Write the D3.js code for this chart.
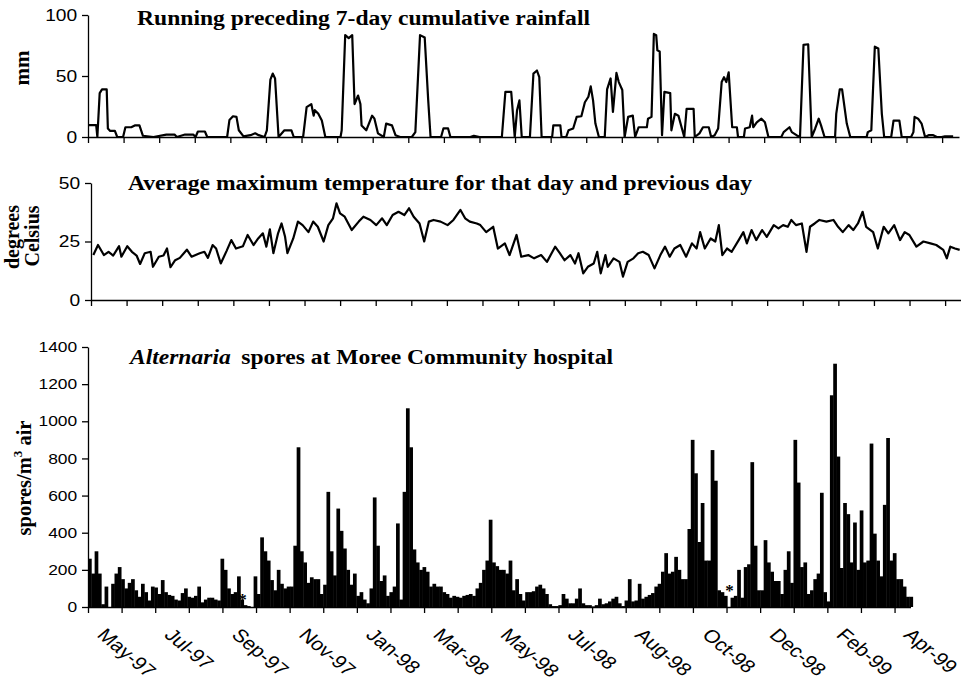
<!DOCTYPE html>
<html>
<head>
<meta charset="utf-8">
<script src="https://cdn.jsdelivr.net/npm/d3@7"></script>
<style>
  body { margin: 0; background: #fff; }
</style>
</head>
<body>
<div id="chart"></div>
<script>
var width = 961,
  height = 692;

// x axis: one tick per month, a label on every second tick
const monthLabels = ["May-97", "Jul-97", "Sep-97", "Nov-97", "Jan-98", "Mar-98", "May-98",
  "Jul-98", "Aug-98", "Oct-98", "Dec-98", "Feb-99", "Apr-99"];
const tickStep = 30.44; // days between monthly ticks
const lastDay = 745;

// Running preceding 7-day cumulative rainfall (mm), read at the turning points
const rainDay = [0, 7, 8, 10, 12, 16, 17, 19, 23, 25,
  30, 32, 37, 40, 44, 47, 56, 67, 74, 76,
  83, 90, 92, 94, 100, 102, 119, 121, 124, 127,
  129, 133, 139, 143, 146, 151, 153, 156, 158, 160,
  163, 168, 174, 176, 184, 187, 191, 193, 194, 197,
  200, 203, 216, 217, 220, 223, 226, 228, 231, 233,
  234, 238, 243, 245, 248, 253, 255, 260, 263, 267,
  277, 280, 284, 288, 291, 293, 302, 304, 308, 310,
  327, 330, 335, 354, 357, 362, 365, 367, 369, 371,
  378, 381, 384, 386, 388, 397, 398, 404, 405, 409,
  411, 415, 418, 422, 425, 428, 430, 432, 434, 437,
  442, 444, 447, 449, 452, 454, 457, 459, 462, 466,
  468, 471, 478, 479, 482, 484, 486, 487, 489, 491,
  493, 498, 499, 502, 505, 508, 510, 512, 518, 519,
  523, 526, 531, 533, 536, 539, 542, 544, 546, 548,
  551, 555, 556, 561, 562, 566, 568, 569, 572, 576,
  579, 582, 593, 595, 600, 602, 606, 609, 612, 616,
  619, 622, 625, 627, 630, 639, 640, 643, 645, 649,
  652, 666, 667, 670, 673, 676, 679, 681, 687, 689,
  694, 696, 704, 706, 707, 710, 713, 716, 719, 723,
  726, 730, 733, 740];
const rainMm = [9.8, 9.8, 0, 36, 39, 39, 7, 5, 5, 0,
  0, 8, 8, 9.5, 9.5, 1, 0, 2, 2, 0,
  2, 2, 0, 4.5, 4.5, 0, 0, 14, 17, 16.5,
  5.5, 0.5, 1.5, 3, 1.5, 0, 5.5, 47, 52, 48,
  0, 5.5, 5.5, 0, 0, 24.5, 27, 17.5, 22, 19,
  13.5, 0, 0, 5.5, 83.5, 81, 83.5, 27, 34, 27,
  9.5, 5.5, 17.5, 15, 3, 0, 11, 9.5, 1.5, 0,
  0, 4, 83.5, 81.5, 30, 0, 0, 7, 7, 0,
  0, 1, 0, 0, 37, 37, 0, 22, 30, 0,
  0, 52, 54.5, 49, 0, 0, 9.5, 9.5, 0, 0,
  5.5, 7, 16.5, 17, 28.5, 33, 41.5, 30, 11, 0,
  0, 39, 48, 20.5, 52.5, 45, 38.5, 0, 16.5, 17.5,
  0, 8, 8, 15, 16.5, 84.5, 83.5, 71, 70, 1.5,
  37, 36, 5.5, 19, 17.5, 7, 0, 23, 23, 0,
  3, 8, 8, 0, 1.5, 7, 45, 49, 45, 53,
  8, 8, 0, 0, 7, 8, 17.5, 8, 12, 15,
  12, 0, 0, 4, 8, 4, 1.5, 0, 75.5, 76,
  0, 7, 15, 9.5, 0, 0, 19, 39, 39, 11,
  0, 0, 4, 5.5, 74, 72.5, 19, 0, 0, 13.5,
  13.5, 0, 0, 4, 16.5, 15, 11, 0, 1.5, 1.5,
  0, 0, 0.5, 0.5];

// Average maximum temperature for that day and previous day (deg C)
const tempDay = [2, 6, 11, 15, 19, 24, 26, 31, 35, 39,
  42, 46, 51, 53, 58, 62, 65, 68, 72, 76,
  82, 86, 93, 97, 100, 104, 107, 111, 116, 120,
  124, 130, 134, 139, 143, 147, 150, 153, 156, 160,
  163, 166, 168, 173, 177, 181, 186, 190, 194, 199,
  203, 207, 210, 213, 217, 223, 229, 233, 239, 244,
  249, 253, 258, 263, 268, 272, 276, 281, 285, 289,
  293, 299, 305, 310, 316, 320, 324, 330, 333, 338,
  344, 348, 354, 358, 364, 368, 374, 379, 385, 390,
  397, 401, 405, 410, 414, 417, 421, 425, 430, 433,
  436, 440, 442, 447, 452, 455, 459, 464, 468, 472,
  477, 482, 487, 491, 495, 499, 504, 509, 514, 518,
  521, 525, 530, 534, 537, 540, 544, 548, 554, 558,
  561, 565, 569, 574, 578, 584, 588, 592, 596, 599,
  603, 608, 612, 615, 619, 623, 629, 635, 639, 643,
  648, 652, 656, 660, 663, 669, 673, 678, 682, 687,
  692, 696, 700, 706, 712, 718, 723, 729, 732, 735,
  739, 743];
const tempC = [19.2, 23.5, 19.2, 20.6, 19, 23, 18.5, 23, 20.6, 19,
  15.4, 20, 20.6, 14.2, 18.5, 19, 22, 14, 17, 18,
  21.5, 18.5, 20, 20.6, 18, 23.5, 22, 15.6, 21, 25.6,
  22, 23, 27.8, 23.5, 26.3, 28.5, 22.8, 30.2, 20, 28.5,
  32.7, 27, 20, 26.3, 33.5, 32, 29, 33.5, 31.3, 25,
  32, 34.9, 41.3, 37, 35.6, 29.9, 33.5, 35.6, 34.2, 32,
  34.9, 32, 36.3, 37.7, 36.3, 39.2, 35.6, 32.7, 25, 33.5,
  34.2, 33.5, 32, 34.2, 38.5, 34.9, 33.5, 32.7, 32, 29,
  31.3, 22, 24.2, 19.2, 27.8, 18.5, 19.2, 17.8, 19.2, 16.3,
  22.8, 20, 17, 19.2, 15.6, 20, 11.4, 14.2, 15.6, 20.6,
  11.4, 19.2, 14.2, 17.8, 16.3, 10, 16.3, 17.8, 20, 20.6,
  19.2, 13.5, 19.2, 22.8, 18.5, 22, 23.5, 18.5, 24.2, 22,
  29, 22, 26.3, 25, 32, 19.2, 22, 20.6, 25.6, 29,
  24.2, 29.9, 25.6, 29.9, 27, 32, 30.6, 32, 31.3, 34.2,
  32, 32.7, 20.6, 31.3, 32.7, 34.2, 33.5, 34.2, 31.3, 29,
  32, 29.9, 32.7, 37.7, 31.3, 29, 22, 31.3, 28.5, 32,
  25.6, 29, 27.8, 22.8, 25, 24.2, 23.5, 21.4, 17.8, 22.8,
  22, 21.4];

// Alternaria spores per m3 air, one value per 3-day block starting at day 0
const sporeStep = 3;
const spores = [260, 180, 300, 180, 15, 110, 0, 125, 180, 215,
  150, 100, 130, 150, 90, 55, 125, 80, 35, 110,
  105, 70, 145, 80, 65, 60, 40, 35, 75, 100,
  55, 50, 60, 110, 25, 40, 50, 50, 40, 35,
  260, 200, 100, 70, 80, 165, 40, 10, 5, 0,
  165, 70, 375, 300, 250, 145, 90, 200, 125, 100,
  110, 110, 330, 860, 300, 240, 130, 160, 150, 150,
  70, 120, 620, 300, 170, 530, 410, 315, 200, 120,
  180, 60, 80, 40, 20, 100, 590, 330, 140, 170,
  60, 80, 110, 450, 40, 620, 1070, 860, 310, 240,
  200, 215, 190, 110, 125, 110, 110, 80, 70, 50,
  60, 55, 50, 60, 65, 70, 60, 100, 130, 200,
  250, 470, 240, 220, 200, 200, 180, 250, 90, 150,
  70, 35, 80, 80, 85, 110, 120, 100, 70, 15,
  5, 5, 10, 70, 45, 20, 20, 45, 100, 20,
  10, 10, 3, 10, 45, 15, 20, 30, 45, 55,
  20, 5, 35, 150, 30, 35, 125, 45, 55, 65,
  75, 110, 125, 190, 290, 180, 190, 270, 200, 150,
  150, 420, 900, 720, 350, 560, 250, 250, 845, 680,
  90, 80, 60, 0, 50, 60, 200, 50, 215, 230,
  780, 330, 90, 90, 360, 240, 190, 140, 140, 70,
  200, 300, 130, 900, 670, 215, 240, 70, 90, 150,
  180, 615, 80, 30, 1140, 1310, 810, 210, 560, 500,
  240, 455, 200, 520, 240, 250, 880, 395, 250, 165,
  550, 910, 250, 290, 150, 150, 110, 55, 55];
// days with missing spore counts, marked with an asterisk
const missingDay = [140, 581];
const missingLevel = [52, 104];

// the scanned figure is wider than tall, so text is stretched sideways
var SX = 1.2;
var sansFont = "'Liberation Sans', Arial, Helvetica, sans-serif";
var serifFont = "'Liberation Serif', 'Times New Roman', serif";

var tickDays = d3.range(25).map(function (k) { return k * tickStep; });

// Scales (the three panels were pasted with slightly different widths)
var xTop = d3.scaleLinear().domain([0, lastDay]).range([88, 959]);
var xMid = d3.scaleLinear().domain([0, lastDay]).range([91, 962]);
var xBot = d3.scaleLinear().domain([0, lastDay]).range([88, 910.5]);

var yRain = d3.scaleLinear().domain([0, 100]).range([137, 15]);
var yTemp = d3.scaleLinear().domain([0, 50]).range([300, 183]);
var ySpore = d3.scaleLinear().domain([0, 1400]).range([607, 347]);

var svg = d3
  .select("#chart")
  .append("svg")
  .attr("width", width)
  .attr("height", height)
  .style("background", "#fff");

function styleAxis(g, size) {
  g.select(".domain").attr("stroke", "#000").attr("stroke-width", 1.3);
  g.selectAll(".tick line").attr("stroke", "#000").attr("stroke-width", 1.3);
  g.selectAll(".tick text")
    .attr("fill", "#000")
    .attr("font-family", sansFont)
    .attr("font-size", size + "px")
    .attr("transform", "scale(" + SX + ",1)");
}

function drawYAxis(scale, x, values, size) {
  svg
    .append("g")
    .attr("transform", "translate(" + x + ",0)")
    .call(
      d3.axisLeft(scale).tickValues(values).tickSize(6).tickSizeOuter(0)
        .tickPadding(3).tickFormat(d3.format("d"))
    )
    .call(styleAxis, size);
}

function drawXAxis(scale, y) {
  svg
    .append("g")
    .attr("transform", "translate(0," + y + ")")
    .call(d3.axisBottom(scale).tickValues(tickDays).tickSize(6).tickSizeOuter(0).tickFormat(""))
    .call(styleAxis, 15);
}

function panelTitle(x, y, len) {
  return svg
    .append("text")
    .attr("x", x)
    .attr("y", y)
    .attr("font-family", serifFont)
    .attr("font-weight", "bold")
    .attr("font-size", "20px")
    .attr("textLength", len)
    .attr("lengthAdjust", "spacingAndGlyphs");
}

function sideLabel(x, y, size) {
  return svg
    .append("text")
    .attr("transform", "translate(" + x + "," + y + ") rotate(-90)")
    .attr("text-anchor", "middle")
    .attr("font-family", serifFont)
    .attr("font-weight", "bold")
    .attr("font-size", size + "px");
}

// ---- Panel 1: rainfall
var rainLine = d3
  .line()
  .x(function (d) { return xTop(d[0]); })
  .y(function (d) { return yRain(d[1]); });

svg
  .append("path")
  .datum(d3.zip(rainDay, rainMm))
  .attr("d", rainLine)
  .attr("fill", "none")
  .attr("stroke", "#000")
  .attr("stroke-width", 2.2)
  .attr("stroke-linejoin", "round");

drawYAxis(yRain, 88, [0, 50, 100], 16);
drawXAxis(xTop, 137);
panelTitle(137, 25, 453).text("Running preceding 7-day cumulative rainfall");
sideLabel(29, 68, 21).text("mm");

// ---- Panel 2: temperature
var tempLine = d3
  .line()
  .x(function (d) { return xMid(d[0]); })
  .y(function (d) { return yTemp(d[1]); });

svg
  .append("path")
  .datum(d3.zip(tempDay, tempC))
  .attr("d", tempLine)
  .attr("fill", "none")
  .attr("stroke", "#000")
  .attr("stroke-width", 2.2)
  .attr("stroke-linejoin", "round");

drawYAxis(yTemp, 91, [0, 25, 50], 16);
drawXAxis(xMid, 300);
panelTitle(128, 190, 624).text("Average maximum temperature for that day and previous day");
sideLabel(19, 237, 20).text("degrees");
sideLabel(39, 236, 20).text("Celsius");

// ---- Panel 3: spores
svg
  .append("g")
  .selectAll("rect")
  .data(spores)
  .join("rect")
  .attr("x", function (d, i) { return xBot(i * sporeStep); })
  .attr("width", xBot(sporeStep) - xBot(0) + 0.4)
  .attr("y", function (d) { return ySpore(d); })
  .attr("height", function (d) { return ySpore(0) - ySpore(d); })
  .attr("fill", "#000");

svg
  .append("g")
  .selectAll("text")
  .data(missingDay)
  .join("text")
  .attr("x", function (d) { return xBot(d); })
  .attr("y", function (d, i) { return ySpore(missingLevel[i]) + 8; })
  .attr("text-anchor", "middle")
  .attr("font-family", serifFont)
  .attr("font-weight", "bold")
  .attr("font-size", "17px")
  .text("*");

drawYAxis(ySpore, 88, d3.range(0, 1401, 200), 14.5);
drawXAxis(xBot, 607);

var t3 = panelTitle(130, 364, 483);
t3.append("tspan").attr("font-style", "italic").text("Alternaria");
t3.append("tspan").attr("dx", 4).text(" spores at Moree Community hospital");

var yl = sideLabel(31, 478, 20.5);
yl.append("tspan").text("spores/m");
yl.append("tspan").attr("font-size", "13px").attr("dy", -9).text("3");
yl.append("tspan").attr("dy", 9).text(" air");

// rotated month labels under the bottom axis
svg
  .append("g")
  .selectAll("g")
  .data(monthLabels)
  .join("g")
  .attr("transform", function (d, i) {
    return "translate(" + (xBot(tickDays[i * 2]) + 8) + ",636) scale(" + SX + ",1) rotate(45)";
  })
  .append("text")
  .attr("font-family", sansFont)
  .attr("font-size", "18px")
  .attr("fill", "#000")
  .text(function (d) { return d; });
</script>
</body>
</html>
